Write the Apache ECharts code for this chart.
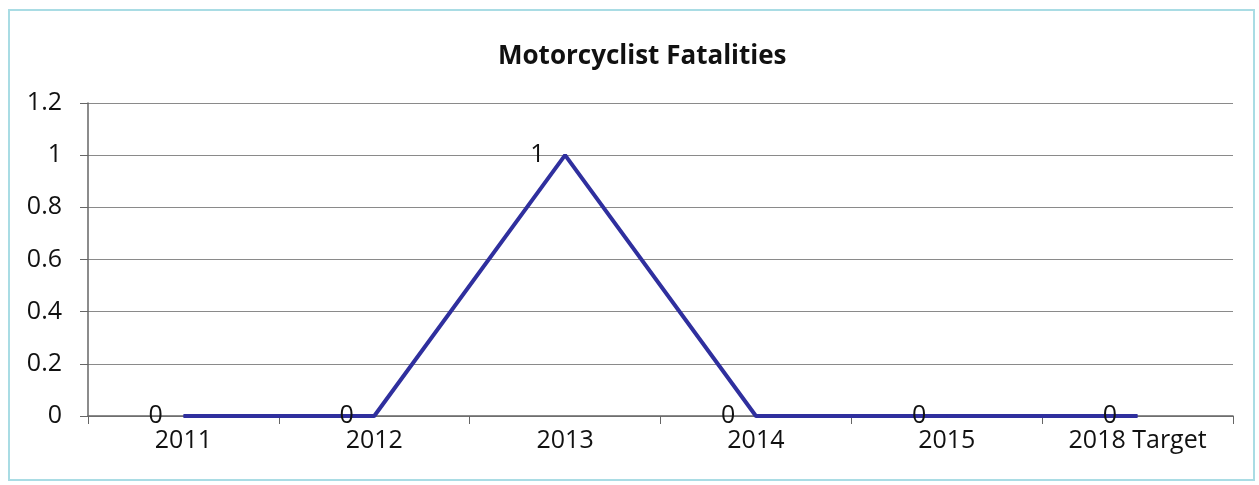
<!DOCTYPE html>
<html>
<head>
<meta charset="utf-8">
<script src="https://cdn.jsdelivr.net/npm/echarts@6/dist/echarts.min.js"></script>
<style>
html,body{margin:0;padding:0;background:#fff;}
#chart{width:1259px;height:485px;}
</style>
</head>
<body>
<div id="chart"></div>
<script>
const categories = ['2011', '2012', '2013', '2014', '2015', '2018 Target'];
const fatalities = [0, 0, 1, 0, 0, 0];
const yTicks = [0, 0.2, 0.4, 0.6, 0.8, 1, 1.2];

const chart = echarts.init(document.getElementById('chart'));
const font = '"Open Sans", "Liberation Sans", sans-serif';
chart.setOption({
  animation: false,
  backgroundColor: '#ffffff',
  title: {
    text: 'Motorcyclist Fatalities',
    left: 493,
    top: 39,
    textStyle: { fontFamily: font, fontSize: 26, fontWeight: 'bold', color: '#111' }
  },
  graphic: [{
    type: 'rect',
    shape: { x: 9, y: 10, width: 1245, height: 470 },
    style: { fill: 'none', stroke: '#a9dce4', lineWidth: 2 },
    silent: true
  }],
  grid: { left: 88, right: 26, top: 103, bottom: 69 },
  xAxis: {
    type: 'category',
    data: categories,
    boundaryGap: true,
    axisLine: { lineStyle: { color: '#666', width: 1.5 } },
    axisTick: { show: true, length: 8, lineStyle: { color: '#666' } },
    axisLabel: { fontFamily: font, fontSize: 25, color: '#111', margin: 12 }
  },
  yAxis: {
    type: 'value',
    min: yTicks[0],
    max: yTicks[yTicks.length - 1],
    interval: 0.2,
    axisLine: { show: true, lineStyle: { color: '#666', width: 1.5 } },
    axisTick: { show: true, length: 8, lineStyle: { color: '#666' } },
    splitLine: { lineStyle: { color: '#8a8a8a', width: 1.2 } },
    axisLabel: {
      fontFamily: font, fontSize: 25, color: '#111', margin: 26,
      formatter: v => String(Math.round(v * 10) / 10)
    }
  },
  series: [{
    type: 'line',
    data: fatalities,
    symbol: 'circle',
    symbolSize: 1,
    itemStyle: { color: '#2f2f9e' },
    lineStyle: { color: '#2f2f9e', width: 4 },
    label: {
      show: true,
      position: 'left',
      distance: 20,
      fontFamily: font,
      fontSize: 25,
      color: '#111'
    }
  }]
});
</script>
</body>
</html>
